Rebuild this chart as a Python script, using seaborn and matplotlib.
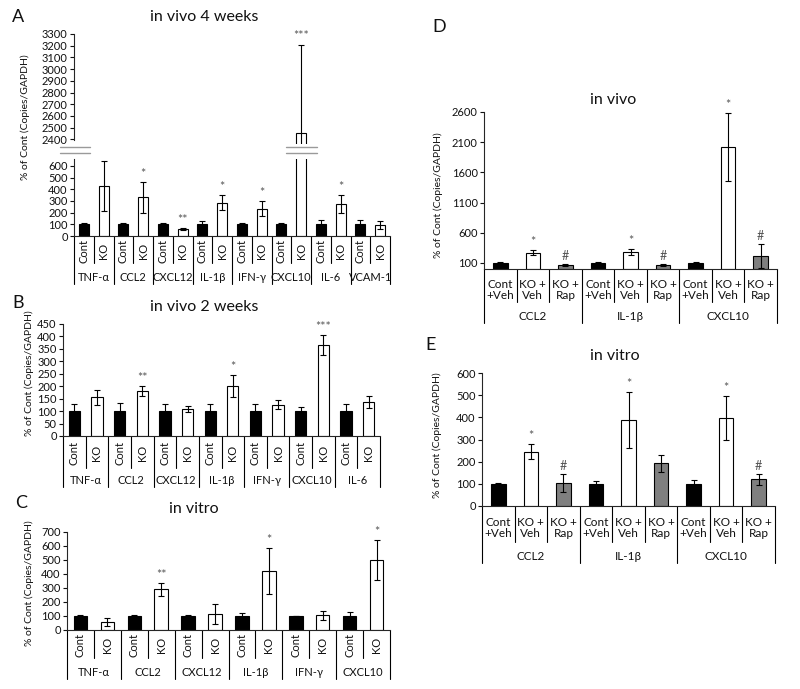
import matplotlib.pyplot as plt
from matplotlib.lines import Line2D
import numpy as np
import pandas as pd
import seaborn as sns

W, H = 800, 689

# A: in vivo 4 weeks
a_genes = ["TNF-α", "CCL2", "CXCL12", "IL-1β", "IFN-γ", "CXCL10", "IL-6", "VCAM-1"]
a_cont = [100, 100, 100, 100, 100, 100, 100, 100]
a_cont_err = [10, 10, 8, 30, 10, 15, 40, 40]
a_ko = [425, 330, 60, 285, 235, 2450, 275, 95]
a_ko_err = [215, 135, 8, 65, 65, 760, 75, 35]
a_ko_sig = ["", "*", "**", "*", "*", "***", "*", ""]

# B: in vivo 2 weeks
b_genes = ["TNF-α", "CCL2", "CXCL12", "IL-1β", "IFN-γ", "CXCL10", "IL-6"]
b_cont = [100, 100, 100, 100, 100, 100, 100]
b_cont_err = [28, 33, 30, 28, 28, 15, 30]
b_ko = [155, 182, 107, 200, 125, 365, 137]
b_ko_err = [30, 20, 12, 45, 18, 40, 23]
b_ko_sig = ["", "**", "", "*", "", "***", ""]

# C: in vitro
c_genes = ["TNF-α", "CCL2", "CXCL12", "IL-1β", "IFN-γ", "CXCL10"]
c_cont = [100, 100, 100, 100, 100, 100]
c_cont_err = [8, 5, 5, 18, 3, 30]
c_ko = [60, 290, 115, 420, 105, 500]
c_ko_err = [28, 48, 70, 165, 32, 145]
c_ko_sig = ["", "**", "", "*", "", "*"]

# D: in vivo, rapamycin
d_genes = ["CCL2", "IL-1β", "CXCL10"]
d_cont = [100, 100, 100]
d_cont_err = [8, 20, 20]
d_veh = [270, 285, 2020]
d_veh_err = [40, 50, 560]
d_rap = [60, 70, 210]
d_rap_err = [15, 15, 200]
d_veh_sig = ["*", "*", "*"]
d_rap_sig = ["#", "#", "#"]

# E: in vitro, rapamycin
e_genes = ["CCL2", "IL-1β", "CXCL10"]
e_cont = [100, 100, 100]
e_cont_err = [5, 12, 18]
e_veh = [245, 388, 398]
e_veh_err = [35, 125, 98]
e_rap = [105, 192, 120]
e_rap_err = [40, 38, 25]
e_veh_sig = ["*", "*", "*"]
e_rap_sig = ["#", "", "#"]

PALETTE = {"Cont": "black", "KO": "white", "Veh": "white", "Rap": "#7f7f7f"}
INK = "#111111"

sns.set_theme(style="ticks")
plt.rcParams["font.family"] = ["Lato", "DejaVu Sans"]
plt.rcParams["axes.linewidth"] = 0.8


def build_frame(genes, conds, labels, values, errors, sigs):
    rows = []
    for i, g in enumerate(genes):
        for c, lab, v, e, s in zip(conds, labels, values, errors, sigs):
            rows.append(dict(slot=f"{g}|{c}", cond=c, label=lab, gene=g,
                             value=v[i], err=e[i], sig=s[i]))
    return pd.DataFrame(rows)


fig = plt.figure(figsize=(W / 100, H / 100), dpi=100)


def px_axes(left, top, right, bottom):
    return fig.add_axes([left / W, 1 - bottom / H, (right - left) / W, (bottom - top) / H])


def draw_bars(ax, df, ylim, ticks, width=0.5):
    sns.barplot(data=df, x="slot", y="value", hue="cond", palette=PALETTE,
                order=list(df.slot), dodge=False, width=width, edgecolor="black",
                linewidth=0.8, errorbar=None, legend=False, ax=ax)
    pos = np.arange(len(df))
    ax.errorbar(pos, df.value, yerr=df.err, fmt="none", ecolor="black",
                elinewidth=0.8, capsize=2.5, capthick=0.8)
    for p, v, e, s in zip(pos, df.value, df.err, df.sig):
        if s:
            ax.annotate(s, (p, v + e), xytext=(0, 1.5), textcoords="offset points",
                        ha="center", va="bottom", fontsize=9, color="#555555")
    ax.set_xlim(-0.5, len(df) - 0.5)
    ax.set_ylim(*ylim)
    ax.set_yticks(ticks)
    ax.set_xticks([])
    ax.set_xlabel("")
    ax.set_ylabel("")
    ax.tick_params(axis="y", labelsize=8, length=3, width=0.8, pad=1.5, colors=INK)
    sns.despine(ax=ax)


def draw_table(ax, df, genes, per, label_px, short_px, group_px, long_px,
               rotate=True, fs=8):
    h = ax.bbox.height
    tr = ax.get_xaxis_transform()
    n = len(df)
    for k in range(n + 1):
        depth = long_px if k % per == 0 else short_px
        ax.add_line(Line2D([k - 0.5, k - 0.5], [0, -depth / h], transform=tr,
                           color="black", lw=0.8, clip_on=False))
    for i, lab in enumerate(df.label):
        ax.text(i, -label_px / h, lab, transform=tr, rotation=90 if rotate else 0,
                ha="center", va="center", fontsize=fs, color=INK, linespacing=1.0)
    for j, g in enumerate(genes):
        ax.text(j * per + (per - 1) / 2, -group_px / h, g, transform=tr,
                ha="center", va="center", fontsize=fs, color=INK)


def fig_text(x, y, s, **kw):
    fig.text(x / W, 1 - y / H, s, **kw)


def ylabel(x, y):
    fig_text(x, y, "% of Cont (Copies/GAPDH)", rotation=90, ha="center",
             va="center", fontsize=7.5, color=INK)


two_conds = ["Cont", "KO"]
three_conds = ["Cont", "Veh", "Rap"]
three_labels = ["Cont\n+Veh", "KO +\nVeh", "KO +\nRap"]

# ---- A (broken axis)
df_a = build_frame(a_genes, two_conds, two_conds, [a_cont, a_ko],
                   [a_cont_err, a_ko_err], [[""] * 8, a_ko_sig])
ax_a_top = px_axes(74, 34, 390, 144)
draw_bars(ax_a_top, df_a, (2360, 3300), np.arange(2400, 3301, 100))
ax_a_top.spines["bottom"].set_visible(False)
ax_a_top.spines["left"].set_bounds(2390, 3300)
ax_a = px_axes(74, 158.8, 390, 236)
draw_bars(ax_a, df_a, (0, 660), np.arange(0, 601, 100))
draw_table(ax_a, df_a, a_genes, 2, 15, 27, 41, 48)
for x0, x1 in [(60, 90), (286, 317)]:
    for yy in (146.5, 152.5):
        fig.add_artist(Line2D([x0 / W, x1 / W], [1 - yy / H, 1 - yy / H],
                              color="#9a9a9a", lw=1.0))

# ---- B
df_b = build_frame(b_genes, two_conds, two_conds, [b_cont, b_ko],
                   [b_cont_err, b_ko_err], [[""] * 7, b_ko_sig])
ax_b = px_axes(63, 324, 380, 436)
draw_bars(ax_b, df_b, (0, 450), np.arange(0, 451, 50))
draw_table(ax_b, df_b, b_genes, 2, 17, 32, 44, 51)

# ---- C
df_c = build_frame(c_genes, two_conds, two_conds, [c_cont, c_ko],
                   [c_cont_err, c_ko_err], [[""] * 6, c_ko_sig])
ax_c = px_axes(67, 532, 390, 630)
draw_bars(ax_c, df_c, (0, 700), np.arange(0, 701, 100))
draw_table(ax_c, df_c, c_genes, 2, 15, 28, 42, 49)

# ---- D
df_d = build_frame(d_genes, three_conds, three_labels, [d_cont, d_veh, d_rap],
                   [d_cont_err, d_veh_err, d_rap_err], [[""] * 3, d_veh_sig, d_rap_sig])
ax_d = px_axes(484, 112, 777, 269)
draw_bars(ax_d, df_d, (0, 2600), np.arange(100, 2601, 500), width=0.45)
draw_table(ax_d, df_d, d_genes, 3, 21, 33, 47, 54, rotate=False, fs=8.5)

# ---- E
df_e = build_frame(e_genes, three_conds, three_labels, [e_cont, e_veh, e_rap],
                   [e_cont_err, e_veh_err, e_rap_err], [[""] * 3, e_veh_sig, e_rap_sig])
ax_e = px_axes(482, 373, 775, 506)
draw_bars(ax_e, df_e, (0, 600), np.arange(0, 601, 100), width=0.45)
draw_table(ax_e, df_e, e_genes, 3, 22, 36, 51, 57, rotate=False, fs=8.5)

# titles, panel letters, y labels
for x, y, s in [(204, 17, "in vivo 4 weeks"), (204, 307, "in vivo 2 weeks"),
                (194, 509, "in vitro"), (613, 100, "in vivo"), (615, 356, "in vitro")]:
    fig_text(x, y, s, ha="center", va="center", fontsize=11.5, color=INK)
for x, y, s in [(18, 17, "A"), (18, 303, "B"), (21, 503, "C"), (439, 27, "D"), (431, 345, "E")]:
    fig_text(x, y, s, ha="center", va="center", fontsize=13, color=INK)
for x, y in [(25, 117), (29, 373), (29, 583), (438, 195), (437, 435)]:
    ylabel(x, y)

fig.savefig("out.png", dpi=100, facecolor="white")
